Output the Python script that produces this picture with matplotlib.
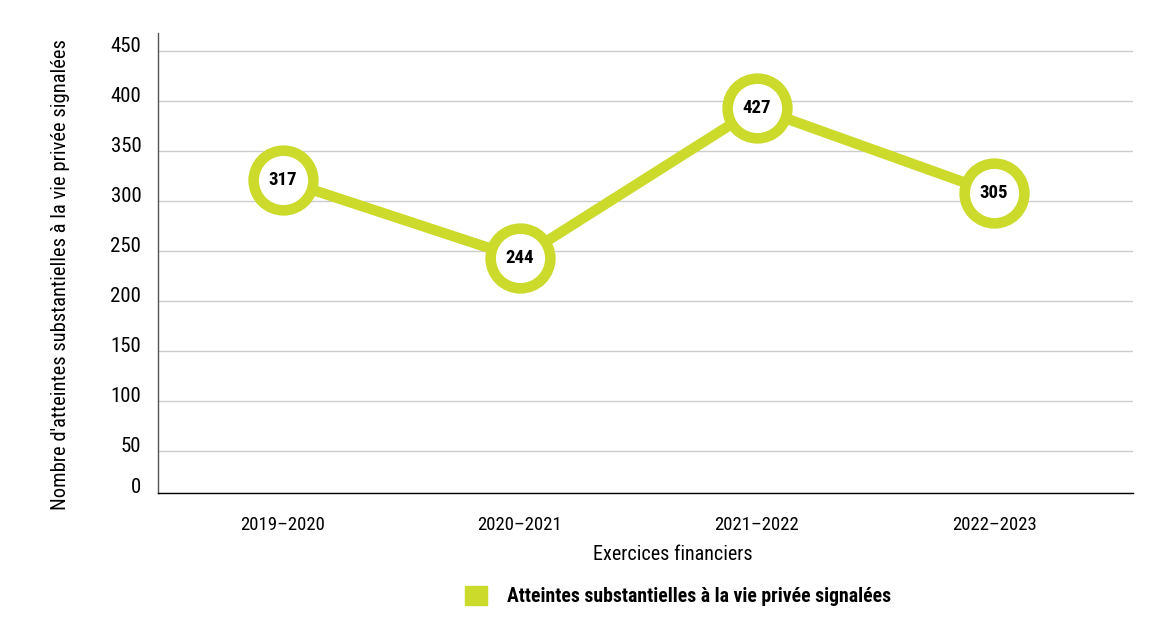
import matplotlib
matplotlib.use("Agg")
import matplotlib.pyplot as plt
import matplotlib.transforms as mtransforms

# Données du graphique
exercices = ["2019–2020", "2020–2021", "2021–2022", "2022–2023"]
etiquettes = [317, 244, 427, 305]
# hauteur des points telle que dessinée dans l'image d'origine
hauteurs = [321, 243, 393, 308]
graduations = [0, 50, 100, 150, 200, 250, 300, 350, 400, 450]

vert = "#cbda2b"
police = ["Roboto Condensed", "Liberation Sans", "DejaVu Sans"]
plt.rcParams["font.family"] = police

fig = plt.figure(figsize=(11.71, 6.19), dpi=100)
ax = fig.add_axes([0.1349, 0.204, 0.8326, 0.7427])

x = list(range(len(exercices)))
ax.plot(x, hauteurs, color=vert, linewidth=7.5, marker="o", markersize=43,
        markeredgewidth=7.6, markerfacecolor="white", markeredgecolor=vert,
        solid_capstyle="butt", zorder=3)
for xi, yi, lab in zip(x, hauteurs, etiquettes):
    ax.text(xi, yi, str(lab), ha="center", va="center", fontsize=13.5,
            fontweight="bold", color="black", zorder=4)

ax.set_xlim(-0.527, 3.586)
ax.set_ylim(8.5, 468)
# la ligne du bas remplace le zéro
positions = [8.5] + graduations[1:]
ax.set_yticks(positions)
ax.set_yticklabels([str(g) for g in graduations])
ax.set_xticks(x)
ax.set_xticklabels(exercices)

ax.grid(axis="y", color="#cccccc", linewidth=1)
ax.set_axisbelow(True)
for s in ["top", "right"]:
    ax.spines[s].set_visible(False)
ax.spines["left"].set_color("#555555")
ax.spines["left"].set_linewidth(1)
ax.spines["bottom"].set_color("black")
ax.spines["bottom"].set_linewidth(1)

ax.tick_params(axis="y", length=0, pad=12, labelsize=15)
ax.tick_params(axis="x", length=0, pad=17, labelsize=13.5)
decal = mtransforms.ScaledTranslation(0, 5 / 72, fig.dpi_scale_trans)
for t in ax.get_yticklabels():
    t.set_transform(t.get_transform() + decal)

ax.set_xlabel("Exercices financiers", fontsize=14.5)
ax.xaxis.set_label_coords(0.528, -0.113)
ax.set_ylabel("Nombre d'atteintes substantielles à la vie privée signalées",
              fontsize=14.8)
ax.yaxis.set_label_coords(-0.09, 0.474)

leg = fig.legend(handles=[plt.Rectangle((0, 0), 1, 1, color=vert)],
                 labels=["Atteintes substantielles à la vie privée signalées"],
                 loc="center", bbox_to_anchor=(0.579, 0.037), frameon=False,
                 handlelength=1.1, handleheight=1.1, handletextpad=1.0,
                 prop={"weight": "bold", "size": 14.2, "family": police})

fig.savefig("out.png", dpi=100)
